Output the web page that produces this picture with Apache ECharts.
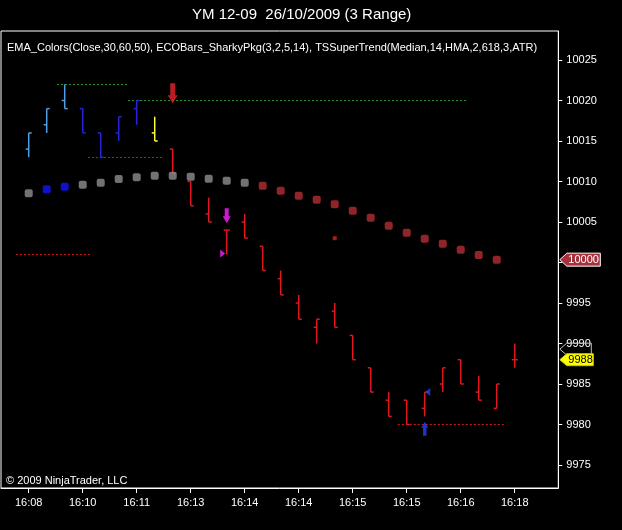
<!DOCTYPE html>
<html><head><meta charset="utf-8">
<script src="https://cdn.jsdelivr.net/npm/echarts@6/dist/echarts.min.js"></script>
<style>html,body{margin:0;padding:0;background:#000;}#c{width:622px;height:530px;}</style>
</head><body><div id="c"></div>
<script>
const FONT = '"Liberation Sans", Arial, sans-serif';

// ---- data ----
const titleText = 'YM 12-09  26/10/2009 (3 Range)';
const indicatorText = 'EMA_Colors(Close,30,60,50), ECOBars_SharkyPkg(3,2,5,14), TSSuperTrend(Median,14,HMA,2,618,3,ATR)';
const copyrightText = '\u00A9 2009 NinjaTrader, LLC';

const tickBars   = [0, 3, 6, 9, 12, 15, 18, 21, 24, 27];
const tickLabels = ['16:08','16:10','16:11','16:13','16:14','16:14','16:15','16:15','16:16','16:18'];
const priceTicks = [9975, 9980, 9985, 9990, 9995, 10000, 10005, 10010, 10015, 10020, 10025];

const barHigh  = [10016,10019,10022,10019,10016,10018,10020,10018,10014,10010,10008,10004,10006,10002,9999,9996,9993,9995,9991,9987,9984,9983,9984,9987,9988,9986,9985,9990];
const barLow   = [10013,10016,10019,10016,10013,10015,10017,10015,10011,10007,10005,10001,10003,9999,9996,9993,9990,9992,9988,9984,9981,9980,9981,9984,9985,9983,9982,9987];
const barOpen  = [10014,10017,10020,10019,10016,10016,10019,10016,10014,10010,10006,10004,10005,10002,9998,9995,9992,9994,9991,9987,9983,9983,9982,9985,9988,9984,9982,9988];
const barClose = [10016,10019,10019,10016,10013,10018,10020,10015,10011,10007,10005,10004,10003,9999,9996,9993,9993,9992,9988,9984,9981,9980,9984,9987,9985,9983,9985,9988];
const barState = ['L','L','L','D','D','D','D','Y','R','R','R','R','R','R','R','R','R','R','R','R','R','R','R','R','R','R','R','R'];

const emaValues = [10008.54,10009.04,10009.36,10009.60,10009.85,10010.31,10010.52,10010.72,10010.72,10010.59,10010.35,10010.10,10009.85,10009.48,10008.86,10008.25,10007.75,10007.19,10006.40,10005.53,10004.54,10003.68,10002.94,10002.32,10001.58,10000.93,10000.35];
const emaState  = ['n','u','u','n','n','n','n','n','n','n','n','n','n','d','d','d','d','d','d','d','d','d','d','d','d','d','d'];

const levelPrice = [10022, 10020, 10013, 10001, 9980];
const levelFrom  = [1.57, 5.52, 3.29, -0.7, 20.5];
const levelTo    = [5.46, 24.4, 7.4, 3.5, 26.5];
const levelKind  = ['g','g','r','r','r'];

const signalBar   = [8, 11, 11, 22, 22, 17];
const signalPrice = [10019.65, 10004.84, 10001.1, 9984, 9980.35, 10003];
const signalKind  = ['bigDown','smallDown','triRight','triLeft','upArrow','dot'];

const trendMarker = 9989.3;

// ---- styles ----
const barColors = {L:'#4f9fe8', D:'#2424dc', Y:'#ffff3c', R:'#e3161e'};
const dotColors = {n:'#8e8e8e', u:'#1414ff', d:'#b32d33'};
const levelColors = {g:'#2a9a2a', r:'#c81a1a'};
const signalStyle = {
  bigDown:  {symbol:'path://M2.5,0 L7.5,0 L7.5,12 L10,12 L5,20 L0,12 L2.5,12 Z', size:[10,20], offset:[0,-10], color:'#e8232b'},
  smallDown:{symbol:'path://M2,0 L6,0 L6,8 L8,8 L4,15 L0,8 L2,8 Z', size:[8,15], offset:[0,-7.5], color:'#ff22ff'},
  triRight: {symbol:'path://M0,0 L5,4 L0,8 Z', size:[5,8], offset:[-4,0], color:'#ff22ff'},
  triLeft:  {symbol:'path://M5,0 L0,4 L5,8 Z', size:[5,8], offset:[3,0], color:'#2244ff'},
  upArrow:  {symbol:'path://M3.5,0 L7,6 L5.2,6 L5.2,14 L1.8,14 L1.8,6 L0,6 Z', size:[7,14], offset:[0,7], color:'#2244ff'},
  dot:      {symbol:'rect', size:4, offset:[0,0], color:'#d42020'}
};

const chart = echarts.init(document.getElementById('c'), null, {renderer:'canvas'});

const barData = barHigh.map((h, i) => [i, barOpen[i], h, barLow[i], barClose[i]]);
const emaData = emaValues.map((v, i) => ({value:[i, v], itemStyle:{color: dotColors[emaState[i]]}}));
const levelData = levelPrice.map((p, i) => [levelFrom[i], levelTo[i], p]);
const signalData = signalBar.map((b, i) => {
  const s = signalStyle[signalKind[i]];
  return {value:[b, signalPrice[i]], symbol:s.symbol, symbolSize:s.size, symbolOffset:s.offset, itemStyle:{color:s.color}};
});

chart.setOption({
  backgroundColor:'#000000',
  animation:false,
  grid:{left:1, top:31, right:63.7, bottom:42, show:true, borderColor:'#ffffff', borderWidth:1, backgroundColor:'#000000'},
  xAxis:{
    type:'value', min:-1.539, max:29.42,
    axisLine:{show:true, onZero:false, lineStyle:{color:'#ffffff', width:1}},
    axisTick:{show:true, customValues:tickBars, length:5, lineStyle:{color:'#ffffff'}},
    axisLabel:{show:true, customValues:tickBars, color:'#ffffff', fontSize:11, fontFamily:FONT, margin:9,
      formatter:(v) => { const k = tickBars.indexOf(Math.round(v)); return k >= 0 ? tickLabels[k] : ''; }},
    splitLine:{show:false}
  },
  yAxis:{
    type:'value', position:'right', min:9972.16, max:10028.58, scale:true,
    axisLine:{show:true, onZero:false, lineStyle:{color:'#ffffff', width:1}},
    axisTick:{show:true, customValues:priceTicks, length:4, lineStyle:{color:'#ffffff'}},
    axisLabel:{show:true, customValues:priceTicks, color:'#ffffff', fontSize:11, fontFamily:FONT, margin:8,
      formatter:(v) => String(Math.round(v))},
    splitLine:{show:false}
  },
  series:[
    {
      type:'custom', name:'levels', data:levelData, z:2,
      renderItem:(params, api) => {
        const i = params.dataIndex;
        const a = api.coord([api.value(0), api.value(2)]);
        const b = api.coord([api.value(1), api.value(2)]);
        return {type:'line', shape:{x1:a[0], y1:Math.round(a[1])+0.5, x2:b[0], y2:Math.round(b[1])+0.5},
          style:{stroke:levelColors[levelKind[i]], lineWidth:1, lineDash:[2,2]}};
      }
    },
    {
      type:'custom', name:'bars', data:barData, z:3,
      renderItem:(params, api) => {
        const i = params.dataIndex;
        const x = api.value(0);
        const pH = api.coord([x, api.value(2)]);
        const pL = api.coord([x, api.value(3)]);
        const pO = api.coord([x, api.value(1)]);
        const pC = api.coord([x, api.value(4)]);
        const st = {stroke:barColors[barState[i]], lineWidth:1.5};
        return {type:'group', children:[
          {type:'line', shape:{x1:pH[0], y1:pH[1], x2:pL[0], y2:pL[1]}, style:st},
          {type:'line', shape:{x1:pO[0]-3, y1:pO[1], x2:pO[0], y2:pO[1]}, style:st},
          {type:'line', shape:{x1:pC[0], y1:pC[1], x2:pC[0]+3, y2:pC[1]}, style:st}
        ]};
      }
    },
    {
      type:'scatter', name:'EMA', data:emaData, symbol:'roundRect', symbolSize:8, z:4
    },
    {
      type:'scatter', name:'signals', data:signalData, z:5
    }
  ]
});

// price markers on the axis and texts
const yOf = v => chart.convertToPixel({yAxisIndex:0}, v);
const axisX = chart.convertToPixel({xAxisIndex:0}, 29.42);
function tag(y, w, h) {
  return [[axisX+1.5, y], [axisX+8.5, y-h/2], [axisX+w, y-h/2], [axisX+w, y+h/2], [axisX+8.5, y+h/2]];
}
const emaLast = emaValues[emaValues.length-1];
const closeLast = barClose[barClose.length-1];
const yE = yOf(emaLast), yC = yOf(closeLast), yT = yOf(trendMarker);

chart.setOption({
  graphic:[
    {type:'text', x:192, y:15, style:{text:titleText, fill:'#ffffff', font:'15px ' + FONT, verticalAlign:'middle'}},
    {type:'text', x:7, y:48, style:{text:indicatorText, fill:'#ffffff', font:'11px ' + FONT, verticalAlign:'middle'}},
    {type:'text', x:6, y:481, style:{text:copyrightText, fill:'#ffffff', font:'11px ' + FONT, verticalAlign:'middle'}},
    {type:'polygon', shape:{points:tag(yT, 33, 12)}, style:{fill:'none', stroke:'#bfbfbf', lineWidth:1}, z:10},
    {type:'polygon', shape:{points:tag(yE, 42, 13)}, style:{fill:'#a8323c', stroke:'#ffffff', lineWidth:1}, z:11},
    {type:'text', x:axisX+10, y:yE, style:{text:String(Math.round(emaLast)), fill:'#ffffff', font:'11px ' + FONT, verticalAlign:'middle'}, z:12},
    {type:'polygon', shape:{points:tag(yC, 35, 12)}, style:{fill:'#ffff00', stroke:'#c8c800', lineWidth:1}, z:11},
    {type:'text', x:axisX+10, y:yC, style:{text:String(closeLast), fill:'#000000', font:'11px ' + FONT, verticalAlign:'middle'}, z:12}
  ]
});
</script>
</body></html>
